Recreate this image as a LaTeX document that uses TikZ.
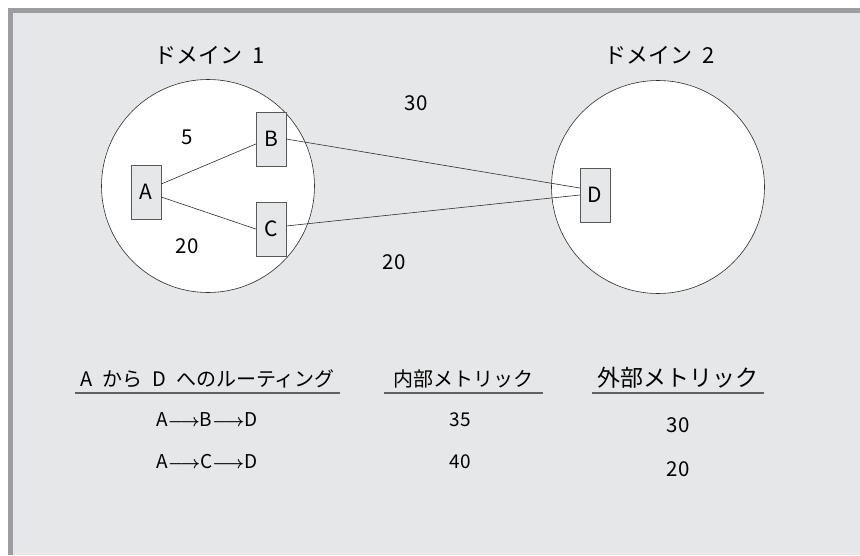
\documentclass[tikz,border=0pt]{standalone}
\usepackage{fontspec}
\setmainfont{Noto Sans CJK JP}
\usetikzlibrary{positioning}
\definecolor{panel}{HTML}{E6E7E9}
\definecolor{frame}{HTML}{9C9DA0}
\definecolor{ink}{HTML}{2E2E2E}
\tikzset{%
	domcircle/.style = {draw=ink, fill=white, circle, minimum size=213pt, inner sep=0pt, line width=0.6pt},
	router/.style    = {draw=ink!80, fill=panel, rectangle, minimum width=30pt, minimum height=54pt, inner sep=0pt, font=\fontsize{21}{21}\selectfont},
	domtitle/.style  = {font=\fontsize{22}{22}\selectfont},
	metric/.style    = {font=\fontsize{20.5}{20.5}\selectfont},
	link/.style      = {draw=ink, line width=0.6pt},
	tablehead/.style = {anchor=south, inner xsep=0pt, inner ysep=3pt, text height=15pt, text depth=3pt, font=\fontsize{20}{20}\selectfont},
	tablecell/.style = {font=\fontsize{19}{19}\selectfont},
	tablerule/.style = {draw=ink!75, line width=1.4pt},
}
\newcommand{\hop}{{\boldmath$\longrightarrow$}}
\begin{document}
\begin{tikzpicture}[x=1pt,y=-1pt]
	\useasboundingbox (0,0) rectangle (860,555);
	% frame and panel
	\fill[frame] (8,8) rectangle (860,555);
	\fill[panel] (13,13) rectangle (860,555);
	% domains
	\node[domcircle] (d1) at (208,186) {};
	\node[domcircle] (d2) at (658,187) {};
	\node[domtitle] (t1) at (210,55) {ドメイン\hspace{0.45em}1};
	\node[domtitle] (t2) at (660,55) {ドメイン\hspace{0.45em}2};
	% routers
	\node[router] (A) at (146,192) {A};
	\node[router] (B) at (271,139) {B};
	\node[router] (C) at (271,229) {C};
	\node[router] (D) at (595,195) {D};
	\draw[link] ([yshift=8pt]A.east) -- ([yshift=-5pt]B.west);
	\draw[link] ([yshift=-5pt]A.east) -- (C.west);
	\draw[link] (B.east) -- ([yshift=7pt]D.west);
	\draw[link] ([yshift=3pt]C.east) -- (D.west);
	% link metrics
	\node[metric] (mAB) at (187,137) {5};
	\node[metric] (mAC) at (187,246) {20};
	\node[metric] (mBD) at (416,103) {30};
	\node[metric] (mCD) at (394,262) {20};
	% table
	\node[tablehead, minimum width=265pt] (h1) at (207.5,393) {A\hspace{0.5em}から\hspace{0.5em}D\hspace{0.5em}へのルーティング};
	\node[tablehead, minimum width=159pt] (h2) at (463.5,393) {内部メトリック};
	\node[tablehead, minimum width=172pt, font=\fontsize{23}{23}\selectfont] (h3) at (678,393) {外部メトリック};
	\draw[tablerule] (h1.south west) -- (h1.south east);
	\draw[tablerule] (h2.south west) -- (h2.south east);
	\draw[tablerule] (h3.south west) -- (h3.south east);
	\node[tablecell] (r1) at (207,420) {A\hop B\hop D};
	\node[tablecell] (r2) at (207,462) {A\hop C\hop D};
	\node[tablecell] (i1) at (460,420) {35};
	\node[tablecell] (i2) at (460,462) {40};
	\node[tablecell, font=\fontsize{20.5}{20.5}\selectfont] (e1) at (678,425) {30};
	\node[tablecell, font=\fontsize{20.5}{20.5}\selectfont] (e2) at (678,469) {20};
\end{tikzpicture}
\end{document}
